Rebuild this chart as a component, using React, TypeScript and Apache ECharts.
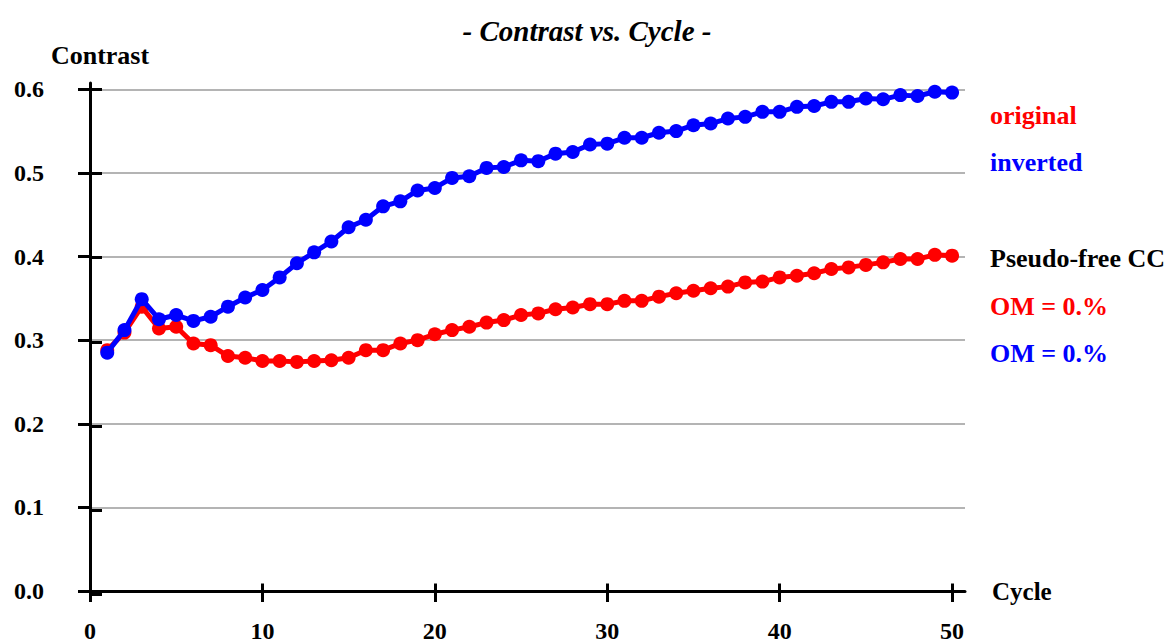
import React, { useEffect, useRef } from "react";
import * as echarts from "echarts";

const cycles = [
  1, 2, 3, 4, 5, 6, 7, 8, 9, 10, 11, 12, 13, 14, 15, 16, 17, 18, 19, 20, 21, 22, 23, 24, 25,
  26, 27, 28, 29, 30, 31, 32, 33, 34, 35, 36, 37, 38, 39, 40, 41, 42, 43, 44, 45, 46, 47, 48, 49, 50,
];

const original = [
  0.288, 0.309, 0.34, 0.314, 0.316, 0.296, 0.294, 0.281, 0.279, 0.275,
  0.275, 0.274, 0.275, 0.276, 0.279, 0.288, 0.288, 0.296, 0.3, 0.307,
  0.312, 0.316, 0.321, 0.324, 0.33, 0.332, 0.337, 0.339, 0.343, 0.343,
  0.347, 0.347, 0.352, 0.356, 0.359, 0.362, 0.364, 0.369, 0.37, 0.375,
  0.377, 0.38, 0.385, 0.387, 0.39, 0.393, 0.397, 0.397, 0.402, 0.401,
];

const inverted = [
  0.285, 0.312, 0.349, 0.325, 0.33, 0.323, 0.328, 0.34, 0.351, 0.36,
  0.375, 0.392, 0.405, 0.418, 0.435, 0.444, 0.46, 0.466, 0.479, 0.482,
  0.494, 0.496, 0.506, 0.507, 0.515, 0.514, 0.523, 0.525, 0.534, 0.535,
  0.542, 0.542, 0.548, 0.55, 0.557, 0.559, 0.565, 0.567, 0.573, 0.573,
  0.579, 0.58, 0.585, 0.585, 0.589, 0.588, 0.593, 0.592, 0.597, 0.596,
];

const xTicks = [0, 10, 20, 30, 40, 50];
const yTicks = [0, 0.1, 0.2, 0.3, 0.4, 0.5, 0.6];

const notes = [
  { text: "original", color: "#ff0000", y: 115 },
  { text: "inverted", color: "#0000ff", y: 162 },
  { text: "Pseudo-free CC", color: "#000000", y: 258 },
  { text: "OM = 0.%", color: "#ff0000", y: 306 },
  { text: "OM = 0.%", color: "#0000ff", y: 353 },
];

const FONT = "'Liberation Serif', 'Times New Roman', serif";

export default function App() {
  const ref = useRef<HTMLDivElement>(null);

  useEffect(() => {
    document.body.style.margin = "0";
    const chart = echarts.init(ref.current!, null, { renderer: "svg" });
    const box = { left: 90, right: 209, top: 83, bottom: 48.5 };
    const xRange = { min: 0, max: 50.75 };
    const yRange = { min: 0, max: 0.6075 };

    const option: any = {
      animation: false,
      backgroundColor: "#ffffff",
      title: {
        text: "- Contrast vs. Cycle -",
        left: "center",
        top: 11,
        textStyle: {
          fontFamily: FONT,
          fontSize: 29,
          fontWeight: "bold",
          fontStyle: "italic",
          color: "#000",
        },
      },
      grid: [
        { ...box, containLabel: false },
        { ...box, containLabel: false },
      ],
      xAxis: [
        {
          type: "value",
          gridIndex: 0,
          ...xRange,
          name: "Cycle",
          nameLocation: "end",
          nameGap: 27,
          nameTextStyle: { fontFamily: FONT, fontSize: 25, fontWeight: "bold", color: "#000" },
          axisLine: { show: true, lineStyle: { color: "#000", width: 3 } },
          axisTick: { show: true, inside: false, length: 11, lineStyle: { color: "#000", width: 3 }, customValues: xTicks },
          axisLabel: {
            show: true,
            customValues: xTicks,
            margin: 28,
            fontFamily: FONT,
            fontSize: 24,
            fontWeight: "bold",
            color: "#000",
          },
          splitLine: { show: false },
        },
        {
          type: "value",
          gridIndex: 1,
          ...xRange,
          axisLine: { show: false },
          axisTick: { show: true, inside: true, length: 11, lineStyle: { color: "#000", width: 3 }, customValues: xTicks },
          axisLabel: { show: false },
          splitLine: { show: false },
        },
      ],
      yAxis: [
        {
          type: "value",
          gridIndex: 0,
          ...yRange,
          name: "Contrast",
          nameLocation: "end",
          nameGap: 15,
          nameTextStyle: {
            fontFamily: FONT,
            fontSize: 26,
            fontWeight: "bold",
            color: "#000",
            padding: [0, 0, 0, 20],
          },
          axisLine: { show: true, lineStyle: { color: "#000", width: 3 } },
          axisTick: { show: true, inside: false, length: 12, lineStyle: { color: "#000", width: 3 }, customValues: yTicks },
          axisLabel: {
            show: true,
            customValues: yTicks,
            margin: 46,
            formatter: (v: number) => v.toFixed(1),
            fontFamily: FONT,
            fontSize: 24,
            fontWeight: "bold",
            color: "#000",
          },
          splitLine: { show: true, lineStyle: { color: "#b4b4b4", width: 2 } },
        },
        {
          type: "value",
          gridIndex: 1,
          ...yRange,
          axisLine: { show: false },
          axisTick: { show: true, inside: true, length: 12, lineStyle: { color: "#000", width: 3 }, customValues: yTicks },
          axisLabel: { show: false },
          splitLine: { show: false },
        },
      ],
      series: [
        {
          name: "original",
          type: "line",
          xAxisIndex: 0,
          yAxisIndex: 0,
          data: cycles.map((c, i) => [c, original[i]]),
          symbol: "circle",
          symbolSize: 14,
          showSymbol: true,
          lineStyle: { color: "#ff0000", width: 5 },
          itemStyle: { color: "#ff0000", borderWidth: 0 },
          z: 3,
        },
        {
          name: "inverted",
          type: "line",
          xAxisIndex: 0,
          yAxisIndex: 0,
          data: cycles.map((c, i) => [c, inverted[i]]),
          symbol: "circle",
          symbolSize: 14,
          showSymbol: true,
          lineStyle: { color: "#0000ff", width: 5 },
          itemStyle: { color: "#0000ff", borderWidth: 0 },
          z: 4,
        },
      ],
      graphic: notes.map((n) => ({
        type: "text",
        x: 990,
        y: n.y,
        style: {
          text: n.text,
          fill: n.color,
          fontFamily: FONT,
          fontSize: 26,
          fontWeight: "bold",
          verticalAlign: "middle",
          align: "left",
        },
      })),
    };

    chart.setOption(option);
    return () => chart.dispose();
  }, []);

  return (
    <div
      ref={ref}
      style={{ position: "absolute", left: 0, top: 0, width: 1174, height: 643 }}
    />
  );
}
